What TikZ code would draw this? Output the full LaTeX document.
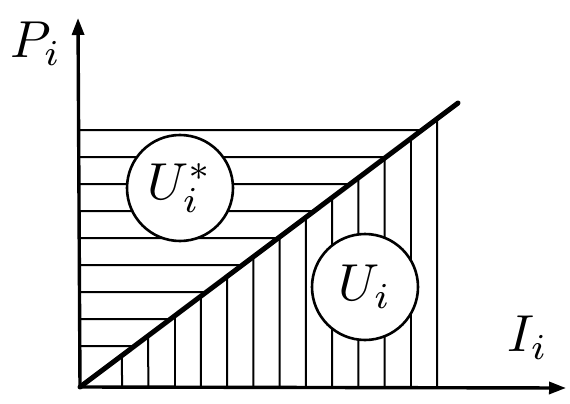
\documentclass[tikz,border=0pt]{standalone}
\usetikzlibrary{calc,arrows.meta}
\newcommand{\bigtxt}[1]{\scalebox{5.2}{#1}}
\begin{document}
\begin{tikzpicture}[x=1pt,y=-1pt,
  axis/.style={line width=3.4pt,-{Triangle[length=17pt,width=12pt]}},
  hatch/.style={line width=2pt},
  diag/.style={line width=5pt,line cap=round},
  bubble/.style={circle,draw,line width=2.6pt,fill=white,minimum size=106pt,inner sep=0pt},
  lbl/.style={inner sep=0pt}]
\useasboundingbox (0,0) rectangle (570,404);
\coordinate (O) at (80,387);
\coordinate (D) at (458,103);
\coordinate (Yend) at (78,18);
\coordinate (Xend) at (566,388);
% horizontal hatching
\foreach \k in {0,...,8}{
  \pgfmathsetmacro{\yy}{130+27*\k}
  \pgfmathsetmacro{\tt}{(387-\yy)/284}
  \draw[hatch] (80,\yy) -- ($(O)!\tt!(D)$);
}
% vertical hatching
\foreach \k in {0,...,12}{
  \pgfmathsetmacro{\xx}{122+26.25*\k}
  \pgfmathsetmacro{\tt}{(\xx-80)/378}
  \draw[hatch] (\xx,387) -- ($(O)!\tt!(D)$);
}
\draw[diag] (O) -- (D);
\draw[axis] (O) -- (Yend);
\draw[axis] (O) -- (Xend);
\node[bubble] (Us) at (180,188) {};
\node[lbl] at (Us.center) {\bigtxt{$U_i^{*}$}};
\node[bubble] (U) at (365,287) {};
\node[lbl] at (U.center) {\bigtxt{$U_i$}};
\node[lbl] (P) at (36,44) {\bigtxt{$P_i$}};
\node[lbl] (I) at (528,338) {\bigtxt{$I_i$}};
\end{tikzpicture}
\end{document}
